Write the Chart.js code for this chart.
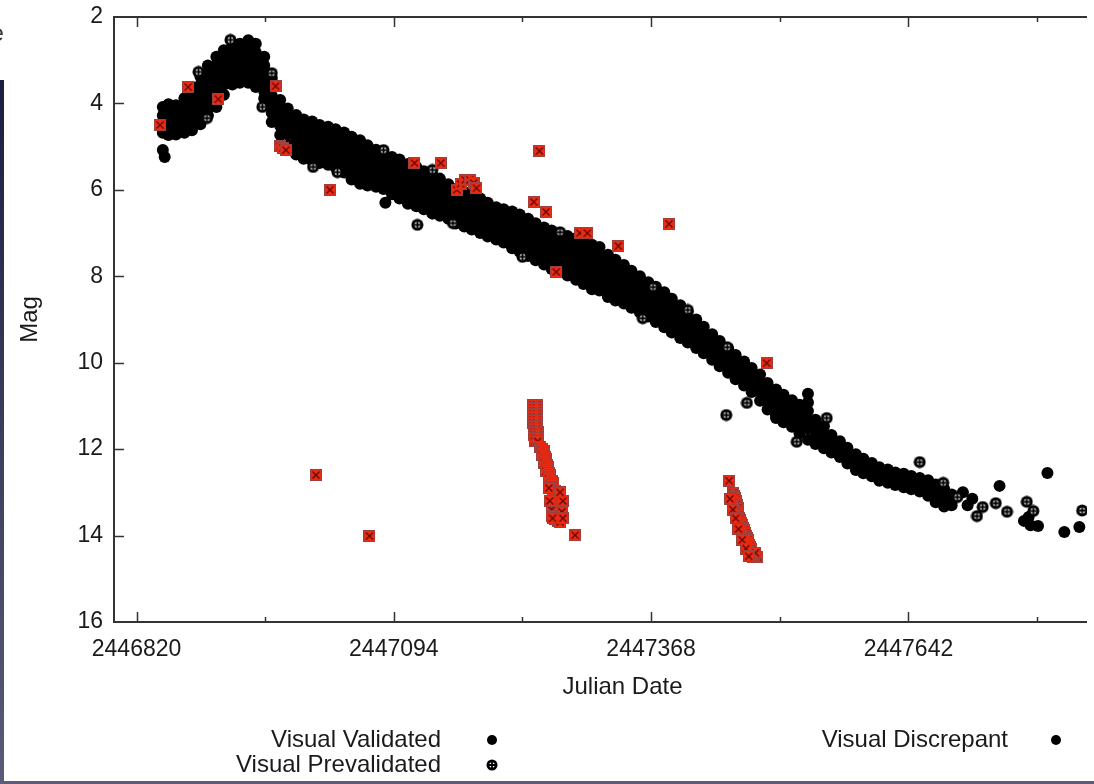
<!DOCTYPE html>
<html>
<head>
<meta charset="utf-8">
<script src="https://cdn.jsdelivr.net/npm/chart.js@4.4.1/dist/chart.umd.min.js"></script>
<style>
  html, body { margin:0; padding:0; background:#fff; }
  body { width:1094px; height:784px; overflow:hidden; position:relative; font-family:'Liberation Sans', Arial, Helvetica, sans-serif; }
  #wrap { position:absolute; left:0; top:0; width:1087px; height:784px; overflow:hidden; }
  #c { display:block; width:1140px; height:784px; }
  .stripL { position:absolute; left:0; top:80px; width:4px; height:704px; background:linear-gradient(#1b1f3f, #5b5b79); }
  .stripB { position:absolute; left:0; top:781px; width:1094px; height:3px; background:#5d5d7a; }
  .frag { position:absolute; left:-9px; top:22px; font-size:23px; line-height:23px; color:#333; }
  .lg { position:absolute; font-size:24px; line-height:24px; color:#1a1a1a; white-space:nowrap; text-align:right; }
  .lm { position:absolute; width:12px; height:12px; }
</style>
</head>
<body>
<div id="wrap"><canvas id="c" width="1140" height="784"></canvas></div>
<div class="stripL"></div>
<div class="stripB"></div>
<span class="frag">e</span>
<div class="lg" style="right:653px; top:727px;">Visual Validated</div>
<div class="lg" style="right:653px; top:752px;">Visual Prevalidated</div>
<div class="lg" style="right:86px; top:727px;">Visual Discrepant</div>
<canvas class="lm" id="lm1" width="12" height="12" style="left:486px; top:734px;"></canvas>
<canvas class="lm" id="lm2" width="12" height="12" style="left:486px; top:759px;"></canvas>
<canvas class="lm" id="lm3" width="12" height="12" style="left:1050px; top:734px;"></canvas>
<script>
// ---------- data ----------
const xTickValues = [2446820, 2446957, 2447094, 2447231, 2447368, 2447505, 2447642, 2447779];
const xTickLabels = ['2446820', '', '2447094', '', '2447368', '', '2447642', ''];
const yTickValues = [2, 4, 6, 8, 10, 12, 14, 16];

// dense band of Visual Validated estimates: one date per column, magnitudes read in that column
const bandDates = [
  2446848, 2446854, 2446862, 2446871, 2446879, 2446888, 2446896, 2446905, 2446913, 2446922,
  2446930, 2446939, 2446947, 2446956, 2446964, 2446973, 2446981, 2446990, 2446998, 2447007,
  2447015, 2447024, 2447032, 2447041, 2447049, 2447058, 2447066, 2447075, 2447083, 2447092,
  2447100, 2447109, 2447118, 2447126, 2447135, 2447143, 2447152, 2447160, 2447169, 2447177,
  2447186, 2447194, 2447203, 2447211, 2447220, 2447228, 2447237, 2447245, 2447254, 2447262,
  2447271, 2447279, 2447288, 2447296, 2447305, 2447313, 2447322, 2447330, 2447339, 2447347,
  2447356, 2447365, 2447373, 2447382, 2447390, 2447399, 2447407, 2447416, 2447424, 2447433,
  2447441, 2447450, 2447458, 2447467, 2447475, 2447484, 2447492, 2447501, 2447509, 2447518,
  2447526, 2447535, 2447543, 2447552, 2447560, 2447569, 2447577, 2447586, 2447594, 2447603,
  2447611, 2447620, 2447628, 2447637, 2447645, 2447654, 2447663, 2447671, 2447680, 2447688
];
const bandMags = [
  [4.08, 4.28, 4.48, 4.68], [4.02, 4.22, 4.42, 4.62, 4.73], [4.04, 4.24, 4.44, 4.64, 4.72],
  [3.88, 4.08, 4.28, 4.48, 4.68], [3.62, 3.82, 4.02, 4.22, 4.42, 4.62],
  [3.37, 3.57, 3.77, 3.97, 4.17, 4.37, 4.48], [3.12, 3.32, 3.52, 3.72, 3.92, 4.12, 4.28],
  [2.92, 3.12, 3.32, 3.52, 3.72, 3.92, 4.08], [2.77, 2.97, 3.17, 3.37, 3.57, 3.8],
  [2.67, 2.87, 3.07, 3.27, 3.47, 3.56], [2.62, 2.82, 3.02, 3.22, 3.42, 3.52],
  [2.54, 2.74, 2.94, 3.14, 3.34, 3.52], [2.62, 2.82, 3.02, 3.22, 3.42, 3.62],
  [2.92, 3.12, 3.32, 3.52, 3.72, 3.88], [3.42, 3.62, 3.82, 4.02, 4.22, 4.43],
  [3.92, 4.12, 4.32, 4.52, 4.73], [4.12, 4.32, 4.52, 4.72, 4.97],
  [4.27, 4.47, 4.67, 4.87, 5.07, 5.18], [4.37, 4.57, 4.77, 4.97, 5.17, 5.28],
  [4.42, 4.62, 4.82, 5.02, 5.22, 5.33], [4.5, 4.7, 4.9, 5.1, 5.3, 5.38],
  [4.54, 4.74, 4.94, 5.14, 5.34, 5.42], [4.6, 4.8, 5.0, 5.2, 5.4, 5.48],
  [4.67, 4.87, 5.07, 5.27, 5.47, 5.6], [4.77, 4.97, 5.17, 5.37, 5.57, 5.76],
  [4.85, 5.05, 5.25, 5.45, 5.65, 5.86], [4.97, 5.17, 5.37, 5.57, 5.77, 5.9],
  [5.07, 5.27, 5.47, 5.67, 5.87, 5.93], [5.17, 5.37, 5.57, 5.77, 5.98],
  [5.24, 5.44, 5.64, 5.84, 6.04, 6.1], [5.3, 5.5, 5.7, 5.9, 6.1, 6.2],
  [5.4, 5.6, 5.8, 6.0, 6.2, 6.32], [5.47, 5.67, 5.87, 6.07, 6.27, 6.38],
  [5.57, 5.77, 5.97, 6.17, 6.37, 6.45], [5.67, 5.87, 6.07, 6.27, 6.47, 6.55],
  [5.74, 5.94, 6.14, 6.34, 6.54, 6.6], [5.87, 6.07, 6.27, 6.47, 6.67],
  [5.98, 6.18, 6.38, 6.58, 6.78], [6.05, 6.25, 6.45, 6.65, 6.85],
  [6.12, 6.32, 6.52, 6.72, 6.92], [6.2, 6.4, 6.6, 6.8, 7.0],
  [6.3, 6.5, 6.7, 6.9, 7.08], [6.4, 6.6, 6.8, 7.0, 7.15],
  [6.45, 6.65, 6.85, 7.05, 7.22], [6.5, 6.7, 6.9, 7.1, 7.3, 7.35],
  [6.57, 6.77, 6.97, 7.17, 7.37, 7.43], [6.67, 6.87, 7.07, 7.27, 7.47, 7.53],
  [6.77, 6.97, 7.17, 7.37, 7.57, 7.63], [6.87, 7.07, 7.27, 7.47, 7.67, 7.73],
  [6.94, 7.14, 7.34, 7.54, 7.74, 7.83], [7.0, 7.2, 7.4, 7.6, 7.8, 7.88],
  [7.07, 7.27, 7.47, 7.67, 7.87, 7.98], [7.12, 7.32, 7.52, 7.72, 7.92, 8.08],
  [7.17, 7.37, 7.57, 7.77, 7.97, 8.18], [7.27, 7.47, 7.67, 7.87, 8.07, 8.3],
  [7.32, 7.52, 7.72, 7.92, 8.12, 8.33], [7.5, 7.7, 7.9, 8.1, 8.3, 8.48],
  [7.62, 7.82, 8.02, 8.22, 8.42, 8.56], [7.74, 7.94, 8.14, 8.34, 8.54, 8.63],
  [7.87, 8.07, 8.27, 8.47, 8.67, 8.73], [8.0, 8.2, 8.4, 8.6, 8.83],
  [8.14, 8.34, 8.54, 8.74, 8.93], [8.24, 8.44, 8.64, 8.84, 9.06],
  [8.37, 8.57, 8.77, 8.97, 9.18], [8.52, 8.72, 8.92, 9.12, 9.3],
  [8.67, 8.87, 9.07, 9.27, 9.43], [8.82, 9.02, 9.22, 9.42, 9.53],
  [9.0, 9.2, 9.4, 9.6, 9.66], [9.17, 9.37, 9.57, 9.78],
  [9.34, 9.54, 9.74, 9.93], [9.5, 9.7, 9.9, 10.08],
  [9.67, 9.87, 10.07, 10.23], [9.82, 10.02, 10.22, 10.38],
  [9.97, 10.17, 10.37, 10.53], [10.12, 10.32, 10.52, 10.68],
  [10.27, 10.47, 10.67, 10.88], [10.47, 10.67, 10.87, 11.08],
  [10.62, 10.82, 11.02, 11.22, 11.28], [10.74, 10.94, 11.14, 11.34, 11.38],
  [10.87, 11.07, 11.27, 11.48], [10.97, 11.17, 11.37, 11.57, 11.63],
  [10.72, 10.92, 11.12, 11.32, 11.52, 11.78], [11.32, 11.52, 11.72, 11.88],
  [11.47, 11.67, 11.87, 11.98], [11.67, 11.87, 12.08],
  [11.82, 12.02, 12.18], [11.97, 12.17, 12.33],
  [12.12, 12.32, 12.48], [12.22, 12.42, 12.56],
  [12.32, 12.5, 12.63], [12.42, 12.6, 12.73],
  [12.47, 12.65, 12.78], [12.54, 12.7, 12.83],
  [12.57, 12.75, 12.88], [12.62, 12.8, 12.93],
  [12.67, 12.85, 12.98], [12.72, 12.92, 13.08],
  [12.82, 13.02, 13.23], [12.92, 13.12, 13.33],
  [13.05, 13.3]
];
// isolated Visual Validated estimates [JD, mag]
const validatedSingles = [
  [2446848, 5.08], [2446850, 5.24], [2447085, 6.30], [2447700, 13.0], [2447705, 13.3],
  [2447710, 13.15], [2447739, 12.85], [2447790, 12.55], [2447765, 13.66], [2447770, 13.57],
  [2447772, 13.76], [2447780, 13.78], [2447808, 13.92], [2447824, 13.8]
];
// Visual Prevalidated [JD, mag]
const prevalidated = [
  [2446886, 3.27], [2446895, 4.34], [2446920, 2.53], [2446954, 4.08], [2446964, 3.30],
  [2447008, 5.47], [2447034, 5.59], [2447083, 5.08], [2447135, 5.54], [2447119, 6.81],
  [2447157, 6.77], [2447231, 7.55], [2447271, 6.98], [2447370, 8.25], [2447359, 8.97],
  [2447407, 8.78], [2447449, 9.64], [2447448, 11.21], [2447470, 10.93], [2447523, 11.83],
  [2447555, 11.28], [2447654, 12.30], [2447679, 12.78], [2447694, 13.11], [2447715, 13.55],
  [2447721, 13.34], [2447735, 13.25], [2447747, 13.45], [2447768, 13.22], [2447775, 13.43],
  [2447827, 13.42]
];
// Visual Discrepant [JD, mag]
const discrepantSingles = [
  [2446845, 4.50], [2446875, 3.62], [2446907, 3.90], [2446968, 3.60], [2446973, 4.99],
  [2446976, 5.03], [2446979, 5.08], [2447026, 6.00], [2447011, 12.60], [2447068, 14.01],
  [2447116, 5.38], [2447144, 5.38], [2447161, 6.00], [2447165, 5.86], [2447170, 5.77],
  [2447175, 5.77], [2447179, 5.84], [2447182, 5.96], [2447249, 5.10], [2447243, 6.28],
  [2447256, 6.51], [2447292, 7.00], [2447300, 7.00], [2447333, 7.30], [2447387, 6.79],
  [2447267, 7.90], [2447491, 10.01], [2447451, 12.73], [2447287, 13.99]
];
const discrepantStreakA = [
  [2447242, 10.98], [2447246, 10.98], [2447242, 11.05], [2447246, 11.05], [2447242, 11.12],
  [2447246, 11.12], [2447242, 11.19], [2447246, 11.19], [2447242, 11.26], [2447246, 11.26],
  [2447242, 11.33], [2447246, 11.33], [2447242, 11.40], [2447246, 11.40], [2447243, 11.47],
  [2447246, 11.47], [2447243, 11.54], [2447246, 11.54], [2447243, 11.61], [2447247, 11.61],
  [2447243, 11.68], [2447247, 11.68], [2447244, 11.75], [2447247, 11.75], [2447244, 11.82],
  [2447247, 11.82],
  [2447250, 11.95], [2447252, 12.00], [2447254, 12.04], [2447253, 12.09], [2447252, 12.14],
  [2447255, 12.18], [2447256, 12.23], [2447255, 12.28], [2447254, 12.32], [2447257, 12.37],
  [2447258, 12.41], [2447257, 12.46], [2447256, 12.51], [2447259, 12.55], [2447260, 12.60],
  [2447260, 12.65], [2447259, 12.69], [2447262, 12.74], [2447264, 12.78], [2447262, 12.83],
  [2447261, 12.88], [2447264, 12.92], [2447266, 12.97], [2447264, 13.02], [2447263, 13.06],
  [2447266, 13.11], [2447268, 13.15], [2447266, 13.20], [2447265, 13.25], [2447268, 13.30],
  [2447269, 13.34], [2447268, 13.39], [2447267, 13.43], [2447269, 13.48], [2447270, 13.52],
  [2447268, 13.57], [2447266, 13.62], [2447269, 13.66], [2447271, 13.69],
  [2447272, 13.30], [2447273, 13.45], [2447262, 13.40], [2447262, 13.55], [2447274, 13.20],
  [2447260, 13.20], [2447271, 13.00], [2447259, 12.90], [2447263, 13.60], [2447274, 13.60]
];
const discrepantStreakB = [
  [2447455, 13.02], [2447456, 13.08], [2447457, 13.13], [2447458, 13.19], [2447458, 13.25],
  [2447459, 13.30], [2447460, 13.36], [2447460, 13.42], [2447460, 13.48], [2447461, 13.53],
  [2447462, 13.59], [2447463, 13.65], [2447464, 13.71], [2447465, 13.76], [2447466, 13.82],
  [2447467, 13.88], [2447468, 13.94], [2447469, 14.00], [2447470, 14.06], [2447471, 14.11],
  [2447471, 14.17], [2447472, 14.22], [2447473, 14.26], [2447474, 14.32], [2447474, 14.38],
  [2447475, 14.44], [2447476, 14.50], [2447481, 14.50], [2447478, 14.45], [2447479, 14.40],
  [2447452, 13.15], [2447455, 13.40], [2447458, 13.60], [2447461, 13.85], [2447465, 14.10],
  [2447469, 14.30], [2447472, 14.48]
];

// ---------- build ----------
const toPt = ([x, y]) => ({ x, y });
const validatedPts = bandDates.flatMap((d, i) => bandMags[i].map(m => ({ x: d, y: m })))
  .concat(validatedSingles.map(toPt));
const prevalidatedPts = prevalidated.map(toPt);
const discrepantPts = discrepantSingles.concat(discrepantStreakA, discrepantStreakB).map(toPt);

function mk(size, draw) {
  const c = document.createElement('canvas');
  c.width = size; c.height = size;
  draw(c.getContext('2d'), size);
  return c;
}
function drawRedBox(g) {
  g.fillStyle = '#ee2a10'; g.fillRect(0.5, 0.5, 11, 11);
  g.strokeStyle = '#9a4040'; g.lineWidth = 1; g.strokeRect(0.5, 0.5, 11, 11);
  g.strokeStyle = '#5a0606'; g.lineWidth = 1.2;
  g.beginPath(); g.moveTo(2.5, 2.5); g.lineTo(9.5, 9.5); g.moveTo(9.5, 2.5); g.lineTo(2.5, 9.5); g.stroke();
}
function drawRing(g, s) {
  const c = s / 2, r = s / 2 - 0.5;
  g.fillStyle = '#000'; g.beginPath(); g.arc(c, c, r, 0, 2 * Math.PI); g.fill();
  g.fillStyle = '#fff'; g.beginPath(); g.arc(c, c, r * 0.5, 0, 2 * Math.PI); g.fill();
  g.strokeStyle = '#000'; g.lineWidth = 1.8;
  g.beginPath(); g.moveTo(c, c - r * 0.55); g.lineTo(c, c + r * 0.55);
  g.moveTo(c - r * 0.55, c); g.lineTo(c + r * 0.55, c); g.stroke();
}
function drawDot(g, s) {
  g.fillStyle = '#000'; g.beginPath(); g.arc(s / 2, s / 2, s / 2 - 1, 0, 2 * Math.PI); g.fill();
}
const redBox = mk(12, drawRedBox);
const ringMark = mk(13, drawRing);

drawDot(document.getElementById('lm1').getContext('2d'), 12);
drawRing(document.getElementById('lm2').getContext('2d'), 12);
drawDot(document.getElementById('lm3').getContext('2d'), 12);

const FONT = "'Liberation Sans', Arial, Helvetica, sans-serif";
const TXT = '#1a1a1a';

const framePlugin = {
  id: 'frame',
  afterDraw(chart) {
    const { ctx, chartArea: a, scales: { x, y } } = chart;
    ctx.save();
    ctx.strokeStyle = '#333';
    ctx.lineWidth = 2;
    ctx.beginPath();
    ctx.moveTo(a.right + 5, a.top); ctx.lineTo(a.left, a.top);
    ctx.lineTo(a.left, a.bottom); ctx.lineTo(a.right + 5, a.bottom);
    ctx.stroke();
    ctx.lineWidth = 1.5;
    ctx.beginPath();
    x.ticks.forEach((t, i) => {
      const px = Math.round(x.getPixelForValue(t.value)) + 0.5;
      const len = xTickLabels[i] ? 10 : 5;
      ctx.moveTo(px, a.bottom); ctx.lineTo(px, a.bottom - len);
      ctx.moveTo(px, a.top); ctx.lineTo(px, a.top + len);
    });
    y.ticks.forEach(t => {
      if (t.value === yTickValues[0] || t.value === yTickValues[yTickValues.length - 1]) return;
      const py = Math.round(y.getPixelForValue(t.value)) + 0.5;
      ctx.moveTo(a.left, py); ctx.lineTo(a.left + 10, py);
    });
    ctx.stroke();
    ctx.restore();
  }
};

new Chart(document.getElementById('c'), {
  type: 'scatter',
  data: {
    datasets: [
      { label: 'Visual Discrepant', data: discrepantPts, pointStyle: redBox, pointRadius: 6, order: 1 },
      { label: 'Visual Prevalidated', data: prevalidatedPts, pointStyle: ringMark, pointRadius: 6, order: 2 },
      { label: 'Visual Validated', data: validatedPts, pointStyle: 'circle', pointRadius: 6,
        backgroundColor: '#000', borderColor: '#000', borderWidth: 0, order: 3 }
    ]
  },
  options: {
    responsive: false,
    animation: false,
    events: [],
    layout: { padding: { left: 0, top: 17, right: 9, bottom: 80 } },
    plugins: { legend: { display: false }, tooltip: { enabled: false } },
    scales: {
      x: {
        type: 'linear', min: 2446796, max: 2447879,
        afterBuildTicks(s) { s.ticks = xTickValues.map(v => ({ value: v })); },
        afterFit(s) { s.height = 82; },
        grid: { display: false, drawTicks: false },
        border: { display: false },
        ticks: {
          autoSkip: false, maxRotation: 0, minRotation: 0, padding: 14,
          font: { family: FONT, size: 23 }, color: TXT,
          callback: (v, i) => xTickLabels[i]
        },
        title: { display: true, text: 'Julian Date', font: { family: FONT, size: 24 }, color: TXT,
                 padding: { top: 0, bottom: 2 } }
      },
      y: {
        type: 'linear', reverse: true, min: 2, max: 16,
        afterBuildTicks(s) { s.ticks = yTickValues.map(v => ({ value: v })); },
        afterFit(s) { s.width = 114; s.paddingTop = 0; s.paddingBottom = 0; },
        grid: { display: false, drawTicks: false },
        border: { display: false },
        ticks: { padding: 11, font: { family: FONT, size: 23 }, color: TXT },
        title: { display: true, text: 'Mag', font: { family: FONT, size: 24 }, color: TXT,
                 padding: { top: 16, bottom: 0 } }
      }
    }
  },
  plugins: [framePlugin]
});
</script>
</body>
</html>
